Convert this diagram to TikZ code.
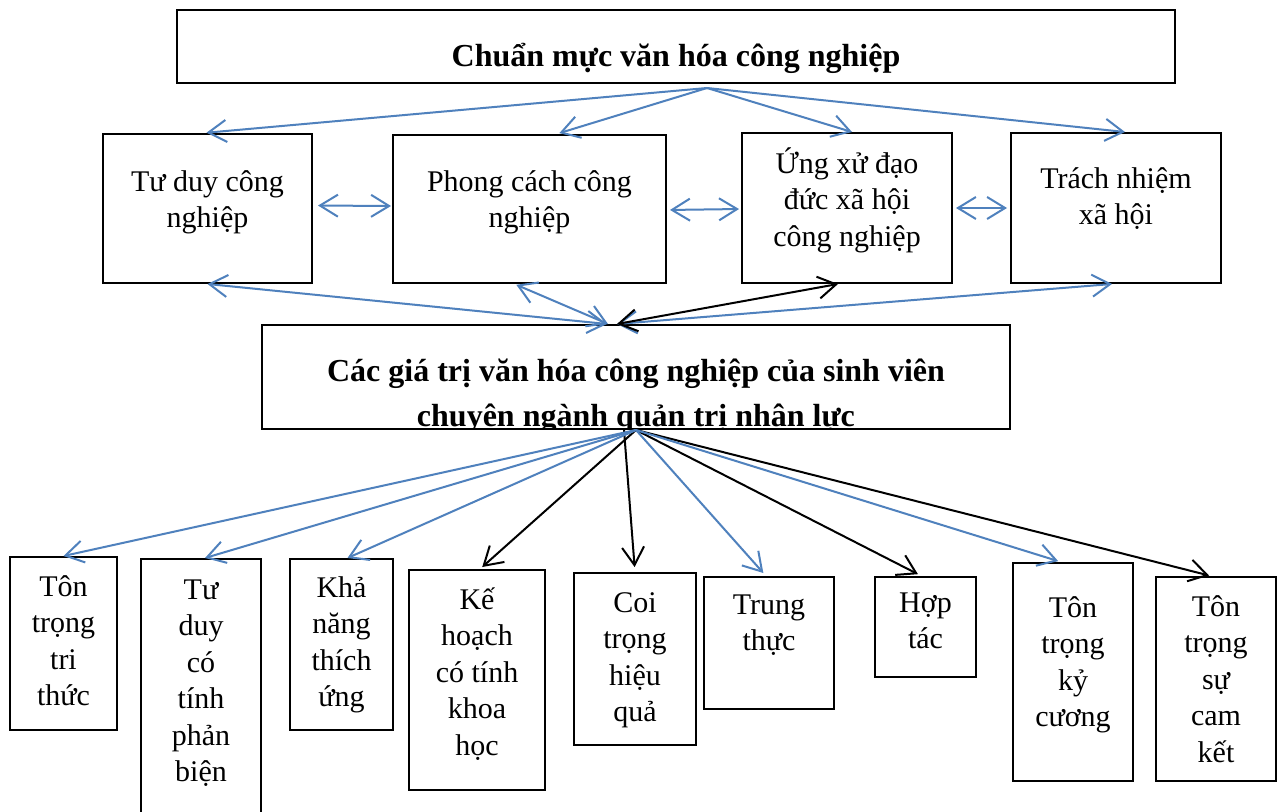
\documentclass[tikz,border=0pt]{standalone}
\usepackage{fontspec}
\setmainfont{Liberation Serif}
\usepackage{tikz}
\usetikzlibrary{arrows.meta,positioning,fit}
\definecolor{linkblue}{RGB}{79,129,189}
\newcommand{\capline}{\rule{0pt}{16pt}}

\begin{document}
\begin{tikzpicture}[
  x=0.5pt, y=-0.5pt,
  >={Straight Barb[length=9pt,width=11pt]},
  box/.style={draw, line width=1pt, inner sep=0pt},
  txt/.style={inner sep=0pt, align=center, font=\fontsize{15}{18.2}\selectfont},
  head/.style={txt, font=\fontsize{16}{22.5}\selectfont\bfseries},
  blueline/.style={line width=1pt, draw=linkblue},
  blackline/.style={line width=1pt, draw=black}
]
\useasboundingbox (0,0) rectangle (1284,812);
\clip (0,0) rectangle (1284,812);
\fill[white] (0,0) rectangle (1284,812);

% top level
\node[box, fit={(177,10) (1175,83)}] (norm) {};
\node[head, below=12.5pt of norm.north] (norm-t) {\capline Chuẩn mực văn hóa công nghiệp};

% second row
\node[box, fit={(103,134) (312,283)}] (think) {};
\node[txt, below=13pt of think.north] (think-t) {\capline Tư duy công\\nghiệp};
\node[box, fit={(393,135) (666,283)}] (manner) {};
\node[txt, below=12.5pt of manner.north] (manner-t) {\capline Phong cách công\\nghiệp};
\node[box, fit={(742,133) (952,283)}] (ethic) {};
\node[txt, below=4.5pt of ethic.north] (ethic-t) {\capline Ứng xử đạo\\đức xã hội\\công nghiệp};
\node[box, fit={(1011,133) (1221,283)}] (duty) {};
\node[txt, below=12pt of duty.north] (duty-t) {\capline Trách nhiệm\\xã hội};

% middle box, second line cut by the border
\node[box, fit={(262,325) (1010,429)}] (values) {};
\begin{scope}
  \clip (values.north west) rectangle ([yshift=0.5pt]values.south east);
  \node[head, below=12.5pt of values.north] (values-t) {\capline Các giá trị văn hóa công nghiệp của sinh viên\\chuyên ngành quản trị nhân lực};
\end{scope}

% bottom row
\node[box, fit={(10,557) (117,730)}] (know) {};
\node[txt, below=4pt of know.north] (know-t) {\capline Tôn\\trọng\\tri\\thức};
\node[box, fit={(141,559) (261,840)}] (critic) {};
\node[txt, below=4.5pt of critic.north] (critic-t) {\capline Tư\\duy\\có\\tính\\phản\\biện};
\node[box, fit={(290,559) (393,730)}] (adapt) {};
\node[txt, below=3.5pt of adapt.north] (adapt-t) {\capline Khả\\năng\\thích\\ứng};
\node[box, fit={(409,570) (545,790)}] (plan) {};
\node[txt, below=4pt of plan.north] (plan-t) {\capline Kế\\hoạch\\có tính\\khoa\\học};
\node[box, fit={(574,573) (696,745)}] (effect) {};
\node[txt, below=4pt of effect.north] (effect-t) {\capline Coi\\trọng\\hiệu\\quả};
\node[box, fit={(704,577) (834,709)}] (honest) {};
\node[txt, below=3pt of honest.north] (honest-t) {\capline Trung\\thực};
\node[box, fit={(875,577) (976,677)}] (coop) {};
\node[txt, below=2pt of coop.north] (coop-t) {\capline Hợp\\tác};
\node[box, fit={(1013,563) (1133,781)}] (order) {};
\node[txt, below=11.5pt of order.north] (order-t) {\capline Tôn\\trọng\\kỷ\\cương};
\node[box, fit={(1156,577) (1276,781)}] (commit) {};
\node[txt, below=4pt of commit.north] (commit-t) {\capline Tôn\\trọng\\sự\\cam\\kết};

% top to second row
\coordinate (top-src) at ([xshift=15.5pt,yshift=-2pt]norm.south);
\draw[blueline, ->, shorten >=1.5pt] (top-src) -- ([xshift=-2pt]think.north);
\draw[blueline, ->, shorten >=1.5pt] (top-src) -- ([xshift=13.5pt]manner.north);
\draw[blueline, ->] (top-src) -- ([xshift=2.5pt]ethic.north);
\draw[blueline, ->] (top-src) -- ([xshift=4.5pt]duty.north);

% within second row
\draw[blueline, <->, shorten <=2.5pt, shorten >=0.5pt] ([yshift=1.5pt]think.east) -- ([yshift=1.5pt]manner.west);
\draw[blueline, <->, shorten <=1.5pt, shorten >=1pt] ([yshift=-0.5pt]manner.east) -- ([yshift=-0.5pt]ethic.west);
\draw[blueline, <->, shorten <=1.5pt, shorten >=1.5pt] (ethic.east) -- (duty.west);

% second row to middle
\draw[blueline, <->] (think.south) -- ([xshift=-14.5pt]values.north);
\draw[blueline, <->, shorten <=1pt] ([xshift=-7.5pt]manner.south) -- ([xshift=-14pt]values.north);
\draw[blueline, <->] ([xshift=-2pt]duty.south) -- ([xshift=-9.5pt]values.north);
\draw[blackline, <->] ([xshift=-4.5pt]ethic.south) -- ([xshift=-9.5pt]values.north);

% middle to bottom row
\draw[blackline, ->, shorten >=1.5pt] (values.south) -- ([xshift=1.5pt]plan.north);
\draw[blackline, ->, shorten >=2.5pt] ([xshift=-6pt]values.south) -- (effect.north);
\draw[blackline, ->, shorten >=2pt] (values.south) -- ([xshift=-2pt]coop.north);
\draw[blackline, ->, shorten >=1pt] (values.south) -- ([xshift=-2.5pt]commit.north);
\draw[blueline, ->] (values.south) -- (know.north);
\draw[blueline, ->] (values.south) -- ([xshift=2pt]critic.north);
\draw[blueline, ->] (values.south) -- ([xshift=3pt]adapt.north);
\draw[blueline, ->, shorten >=2pt] (values.south) -- ([xshift=-1.5pt]honest.north);
\draw[blueline, ->, shorten >=1.5pt] (values.south) -- ([xshift=-6pt]order.north);
\end{tikzpicture}
\end{document}
